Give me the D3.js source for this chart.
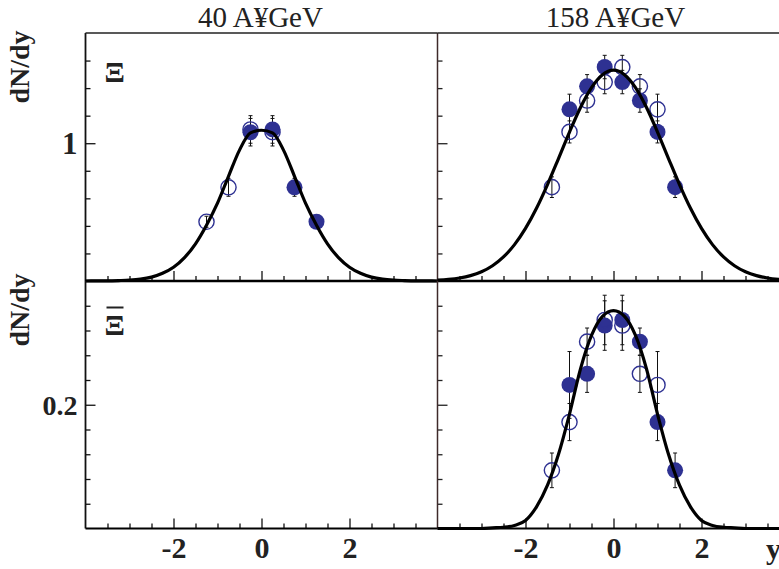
<!DOCTYPE html>
<html>
<head>
<meta charset="utf-8">
<script src="https://cdn.jsdelivr.net/npm/d3@7"></script>
<style>
  html, body { margin: 0; padding: 0; background: #fff; }
  svg { display: block; }
</style>
</head>
<body>
<svg id="chart" width="779" height="569"></svg>
<script>
// ---- Column / row titles -------------------------------------------------
const energyTitles = ["40 A¥GeV", "158 A¥GeV"];
const speciesLabels = ["Ξ", "Ξ"];          // second row is the antiparticle (drawn with an overbar)
const yAxisTitle = "dN/dy";
const xAxisTitle = "y";

// ---- Axis ticks ------------------------------------------------------------
const xMajorTicks = [-2, 0, 2];
const xMinorTicks = [-3.5, -3, -2.5, -1.5, -1, -0.5, 0.5, 1, 1.5, 2.5, 3, 3.5];
const yMajorTop = [1];
const yMinorTop = [0.2, 0.4, 0.6, 0.8, 1.2, 1.4, 1.6];
const yMajorBottom = [0.2];
const yMinorBottom = [0.04, 0.08, 0.12, 0.16, 0.24, 0.28, 0.32, 0.36];

// ---- Xi at 40 A GeV --------------------------------------------------------
const xi40Rap = [-0.25, 0.25, 0.75, 1.25];          // measured bins
const xi40Val = [1.08, 1.10, 0.68, 0.43];
const xi40Err = [0.10, 0.10, 0.065, 0.04];
const xi40ReflRap = [0.25, -0.25, -0.75, -1.25];    // reflected around midrapidity
const xi40ReflVal = [1.08, 1.10, 0.68, 0.43];
const xi40ReflErr = [0.10, 0.10, 0.065, 0.04];

// ---- Xi at 158 A GeV -------------------------------------------------------
const xi158Rap = [-1.0, -0.6, -0.2, 0.2, 0.6, 1.0, 1.4];
const xi158Val = [1.246, 1.413, 1.553, 1.444, 1.31, 1.082, 0.681];
const xi158Err = [0.11, 0.085, 0.085, 0.085, 0.085, 0.08, 0.075];
const xi158ReflRap = [1.0, 0.6, 0.2, -0.2, -0.6, -1.0, -1.4];
const xi158ReflVal = [1.246, 1.413, 1.553, 1.444, 1.31, 1.082, 0.681];
const xi158ReflErr = [0.11, 0.085, 0.085, 0.085, 0.085, 0.08, 0.075];

// ---- anti-Xi at 158 A GeV --------------------------------------------------
const axi158Rap = [-1.0, -0.6, -0.2, 0.2, 0.6, 1.0, 1.4];
const axi158Val = [0.232, 0.250, 0.328, 0.337, 0.302, 0.172, 0.094];
const axi158Err = [0.054, 0.03, 0.04, 0.04, 0.022, 0.03, 0.028];
const axi158ReflRap = [1.0, 0.6, 0.2, -0.2, -0.6, -1.0, -1.4];
const axi158ReflVal = [0.232, 0.250, 0.328, 0.337, 0.302, 0.172, 0.094];
const axi158ReflErr = [0.054, 0.03, 0.04, 0.04, 0.022, 0.03, 0.028];

// ---- Symmetric fit curves (values at |y| = 0, 0.25, ... 4) -----------------
const fitRap = [0, 0.25, 0.5, 0.75, 1.0, 1.25, 1.5, 1.75, 2.0, 2.25, 2.5, 2.75, 3.0, 3.25, 3.5, 3.75, 4.0];
const fitXi40 = [1.094, 1.075, 0.95, 0.76, 0.565, 0.405, 0.27, 0.17, 0.10, 0.056, 0.028, 0.013, 0.006, 0.003, 0.001, 0.0005, 0];
const fitXi158 = [1.53, 1.497, 1.403, 1.259, 1.081, 0.889, 0.70, 0.528, 0.382, 0.264, 0.175, 0.111, 0.067, 0.039, 0.022, 0.012, 0.006];
const fitAxi158 = [0.352, 0.343, 0.312, 0.258, 0.185, 0.12, 0.07, 0.035, 0.013, 0.005, 0.002, 0.001, 0, 0, 0, 0, 0];

// ---- Layout ----------------------------------------------------------------
const serif = "'Liberation Serif', 'Times New Roman', serif";
const markerColor = "#2e3192";
const dividerColor = "#3e2a2a";
const svg = d3.select("#chart");

const cols = [
  { x0: 85.5, x1: 437.5 },
  { x0: 437.5, x1: 789.5 }
];
const rows = [
  { y0: 33, y1: 281, domain: [0, 1.8], major: yMajorTop, minor: yMinorTop },
  { y0: 281, y1: 528.5, domain: [0, 0.4], major: yMajorBottom, minor: yMinorBottom }
];

function series(rap, val, err) {
  return rap.map((r, i) => ({ rap: r, val: val[i], err: err[i] }));
}
function mirrored(rap, val) {
  const left = rap.slice(1).map((r, i) => ({ rap: -r, val: val[i + 1] })).reverse();
  const right = rap.map((r, i) => ({ rap: r, val: val[i] }));
  return left.concat(right);
}

const panels = [
  { row: 0, col: 0, fit: mirrored(fitRap, fitXi40),
    filled: series(xi40Rap, xi40Val, xi40Err), open: series(xi40ReflRap, xi40ReflVal, xi40ReflErr) },
  { row: 0, col: 1, fit: mirrored(fitRap, fitXi158),
    filled: series(xi158Rap, xi158Val, xi158Err), open: series(xi158ReflRap, xi158ReflVal, xi158ReflErr) },
  { row: 1, col: 0, fit: null, filled: [], open: [] },
  { row: 1, col: 1, fit: mirrored(fitRap, fitAxi158),
    filled: series(axi158Rap, axi158Val, axi158Err), open: series(axi158ReflRap, axi158ReflVal, axi158ReflErr) }
];

panels.forEach(p => {
  const c = cols[p.col], r = rows[p.row];
  const x = d3.scaleLinear().domain([-4, 4]).range([c.x0, c.x1]);
  const y = d3.scaleLinear().domain(r.domain).range([r.y1, r.y0]);
  const g = svg.append("g");

  // y-axis ticks (pointing into the panel)
  const yMinorAxis = d3.axisLeft(y).tickValues(r.minor).tickSize(-5).tickSizeOuter(0).tickFormat("");
  const yMajorAxis = d3.axisLeft(y).tickValues(r.major).tickSize(-10).tickSizeOuter(0)
    .tickPadding(8).tickFormat(d => (p.col === 0 ? String(d) : ""));
  [yMinorAxis, yMajorAxis].forEach(ax => {
    const a = g.append("g").attr("transform", `translate(${c.x0},0)`).call(ax);
    a.select(".domain").remove();
    a.selectAll(".tick line").attr("stroke", p.col === 0 ? "#111" : "#222").attr("stroke-width", 1.3);
    a.selectAll(".tick text").attr("font-family", serif).attr("font-weight", "bold")
      .attr("font-size", p.row === 0 ? 31 : 28).attr("fill", "#222").attr("dy", "0.34em");
  });

  // x-axis ticks on the lower edge of every panel
  const xMinorAxis = d3.axisBottom(x).tickValues(xMinorTicks).tickSize(-5).tickSizeOuter(0).tickFormat("");
  const xMajorAxis = d3.axisBottom(x).tickValues(xMajorTicks).tickSize(-10).tickSizeOuter(0)
    .tickPadding(9).tickFormat(d => (p.row === 1 ? String(d) : ""));
  [xMinorAxis, xMajorAxis].forEach(ax => {
    const a = g.append("g").attr("transform", `translate(0,${r.y1})`).call(ax);
    a.select(".domain").remove();
    a.selectAll(".tick line").attr("stroke", "#111").attr("stroke-width", 1.3);
    a.selectAll(".tick text").attr("font-family", serif).attr("font-weight", "bold")
      .attr("font-size", 30).attr("fill", "#222").attr("dy", "0.68em");
  });

  // panel frame: left edge and lower edge
  g.append("line").attr("x1", c.x0).attr("x2", c.x0).attr("y1", r.y0).attr("y2", r.y1)
    .attr("stroke", p.col === 0 ? "#111" : dividerColor).attr("stroke-width", p.col === 0 ? 1.8 : 1.5);
  g.append("line").attr("x1", c.x0).attr("x2", c.x1).attr("y1", r.y1).attr("y2", r.y1)
    .attr("stroke", "#000").attr("stroke-width", p.row === 0 ? 2.6 : 2.2);
  if (p.row === 0) {
    g.append("line").attr("x1", c.x0).attr("x2", c.x1).attr("y1", r.y0).attr("y2", r.y0)
      .attr("stroke", "#222").attr("stroke-width", 1.5);
  }

  // error bars
  const pts = p.filled.concat(p.open);
  const eb = g.append("g").attr("stroke", "#111").attr("stroke-width", 1);
  pts.forEach(d => {
    const px = x(d.rap), yt = y(d.val + d.err), yb = y(d.val - d.err);
    eb.append("line").attr("x1", px).attr("x2", px).attr("y1", yt).attr("y2", yb);
    eb.append("line").attr("x1", px - 2).attr("x2", px + 2).attr("y1", yt).attr("y2", yt);
    eb.append("line").attr("x1", px - 2).attr("x2", px + 2).attr("y1", yb).attr("y2", yb);
  });

  // markers: measured (filled) and reflected (open)
  g.append("g").selectAll("circle").data(p.filled).join("circle")
    .attr("cx", d => x(d.rap)).attr("cy", d => y(d.val)).attr("r", 8)
    .attr("fill", markerColor);
  g.append("g").selectAll("circle").data(p.open).join("circle")
    .attr("cx", d => x(d.rap)).attr("cy", d => y(d.val)).attr("r", 7.6)
    .attr("fill", "none").attr("stroke", markerColor).attr("stroke-width", 1.4);

  // fit curve
  if (p.fit) {
    const line = d3.line().x(d => x(d.rap)).y(d => y(d.val)).curve(d3.curveMonotoneX);
    g.append("path").datum(p.fit).attr("d", line)
      .attr("fill", "none").attr("stroke", "#000").attr("stroke-width", 3.2)
      .attr("stroke-linejoin", "round");
  }
});

// ---- Texts -----------------------------------------------------------------
energyTitles.forEach((t, i) => {
  svg.append("text").attr("x", (cols[i].x0 + cols[i].x1) / 2 + (i === 1 ? 2 : -1))
    .attr("y", 27).attr("text-anchor", "middle")
    .attr("font-family", serif).attr("font-size", 29).attr("fill", "#222").text(t);
});

[67, 310].forEach(cy => {
  svg.append("text").attr("transform", `translate(29,${cy}) rotate(-90)`)
    .attr("text-anchor", "middle").attr("font-family", serif).attr("font-weight", "bold")
    .attr("font-size", 28).attr("fill", "#222").text(yAxisTitle);
});

// species labels
svg.append("text").attr("x", 104.5).attr("y", 82).attr("font-family", serif).attr("font-weight", "bold")
  .attr("font-size", 30).attr("fill", "#222").text(speciesLabels[0]);
svg.append("text").attr("x", 104.5).attr("y", 335).attr("font-family", serif).attr("font-weight", "bold")
  .attr("font-size", 30).attr("fill", "#222").text(speciesLabels[1]);
svg.append("line").attr("x1", 106.5).attr("x2", 123.5).attr("y1", 307.5).attr("y2", 307.5)
  .attr("stroke", "#222").attr("stroke-width", 2);

// x-axis title (runs off the right edge like the last panel)
svg.append("text").attr("x", 766).attr("y", 559).attr("font-family", serif).attr("font-weight", "bold")
  .attr("font-size", 30).attr("fill", "#222").text(xAxisTitle);
</script>
</body>
</html>
